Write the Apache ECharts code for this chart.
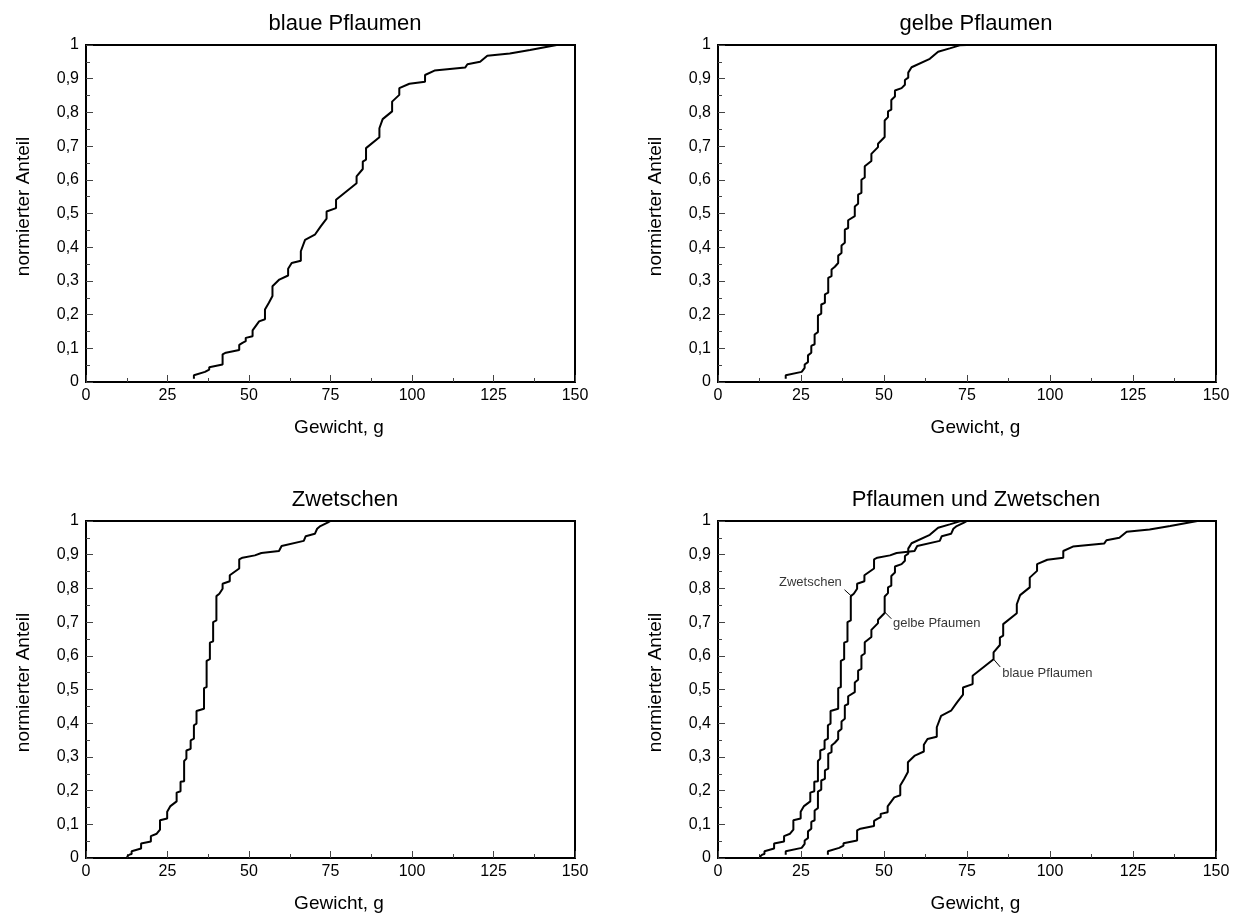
<!DOCTYPE html>
<html>
<head>
<meta charset="utf-8">
<script src="https://cdn.jsdelivr.net/npm/echarts@6/dist/echarts.min.js"></script>
<style>
html,body{margin:0;padding:0;background:#fff;}
#chart{width:1242px;height:915px;}
</style>
</head>
<body>
<div id="chart"></div>
<script>
// ---- data (weight in g, normalized cumulative share) ----
const blauePflaumen = [
  [33.1,0.01],[33.1,0.02],[36.5,0.03],[37.8,0.037],[37.8,0.044],[41.9,0.052],[41.9,0.082],[42.9,0.087],
  [47,0.095],[47,0.11],[48,0.116],[49,0.121],[49,0.131],[51.1,0.136],[51.1,0.153],[53.1,0.18],
  [54.9,0.186],[54.9,0.215],[56.1,0.235],[57.2,0.255],[57.2,0.284],[59.3,0.304],[62,0.316],[62,0.336],
  [63.1,0.353],[65.9,0.36],[65.9,0.388],[67.2,0.422],[70.2,0.437],[72,0.462],[73.8,0.485],[73.8,0.506],
  [76.7,0.516],[76.7,0.541],[83,0.59],[83,0.61],[84.9,0.632],[84.9,0.654],[85.9,0.66],[85.9,0.694],
  [90,0.726],[90,0.753],[91,0.78],[93.9,0.803],[93.9,0.832],[96.1,0.852],[96.1,0.872],[99.2,0.885],
  [104,0.891],[104,0.911],[106.9,0.924],[116.3,0.933],[117,0.943],[120.9,0.95],[123.1,0.968],
  [130,0.975],[136.2,0.985],[144.4,1.0]
];
const gelbePflaumen = [
  [20.4,0.01],[20.4,0.02],[25.2,0.03],[26.1,0.042],[26.1,0.052],[27.1,0.059],[27.1,0.079],[28.1,0.087],
  [28.1,0.107],[29.1,0.112],[29.1,0.141],[30.1,0.148],[30.1,0.197],[31.1,0.203],[31.1,0.23],[32.2,0.235],
  [32.2,0.26],[33.2,0.265],[33.2,0.309],[34.2,0.314],[34.2,0.334],[35.2,0.342],[36.2,0.353],[36.2,0.375],
  [37.2,0.383],[37.2,0.405],[38.2,0.413],[38.2,0.452],[39.2,0.457],[39.2,0.48],[41.2,0.492],[41.2,0.521],
  [42.2,0.529],[42.2,0.556],[43.2,0.561],[43.2,0.6],[44.2,0.607],[44.2,0.64],[46.2,0.656],[46.2,0.677],
  [48.2,0.697],[48.2,0.707],[50.2,0.727],[50.2,0.776],[51.2,0.786],[51.2,0.803],[52.2,0.808],[52.2,0.837],
  [53.3,0.847],[53.3,0.865],[55.3,0.872],[56.3,0.882],[56.3,0.896],[57.3,0.903],[57.3,0.918],[58.3,0.934],
  [63.8,0.959],[66.3,0.98],[69.8,0.99],[72.8,0.999],[74.9,1.0]
];
const zwetschen = [
  [12.5,0.003],[13.3,0.01],[14.0,0.012],[14.0,0.02],[16.9,0.028],[16.9,0.043],[19.9,0.049],[19.9,0.065],
  [21.7,0.072],[22.7,0.084],[22.7,0.112],[24.9,0.117],[24.9,0.137],[25.9,0.154],[27.8,0.168],[27.8,0.194],
  [29,0.198],[29,0.226],[30.1,0.228],[30.1,0.288],[30.8,0.295],[30.8,0.319],[32.1,0.324],[32.1,0.349],
  [33.1,0.354],[33.1,0.394],[33.9,0.399],[33.9,0.436],[36.2,0.443],[36.2,0.504],[37,0.507],[37,0.585],
  [38,0.59],[38,0.639],[39,0.643],[39,0.7],[40,0.705],[40,0.777],[40.9,0.784],[41.9,0.799],[41.9,0.814],
  [44.1,0.821],[44.1,0.839],[47,0.859],[47,0.886],[48,0.891],[51.8,0.898],[53.8,0.905],[59.2,0.911],
  [60,0.926],[66.8,0.941],[67.4,0.955],[70.2,0.962],[70.9,0.977],[71.9,0.985],[74.1,0.995],[75,1.0]
];
const panelTitles = ['blaue Pflaumen', 'gelbe Pflaumen', 'Zwetschen', 'Pflaumen und Zwetschen'];
const xTicks = [0, 25, 50, 75, 100, 125, 150];
const yTicks = [0, 0.1, 0.2, 0.3, 0.4, 0.5, 0.6, 0.7, 0.8, 0.9, 1];
// annotations in the combined panel: [text, anchorX, anchorY, side, leaderFrom, leaderTo]
const annotations = [
  ['Zwetschen', 37.3, 0.817, 'left', [40.1, 0.778], [38.1, 0.796]],
  ['gelbe Pfaumen', 52.7, 0.696, 'right', [50.2, 0.730], [52.2, 0.710]],
  ['blaue Pflaumen', 85.6, 0.547, 'right', [83.0, 0.590], [85.0, 0.567]]
];

// ---- layout ----
const FONT = '"Liberation Sans", Arial, sans-serif';
const grids = [
  {left: 86, top: 45, width: 489, height: 337},
  {left: 718, top: 45, width: 498, height: 337},
  {left: 86, top: 521, width: 489, height: 337},
  {left: 718, top: 521, width: 498, height: 337}
];
const titlePos = [
  {left: 345, top: 13}, {left: 976, top: 13},
  {left: 345, top: 489}, {left: 976, top: 489}
];

const fmtY = v => String(+v.toFixed(1)).replace('.', ',');

const chart = echarts.init(document.getElementById('chart'), null, {renderer: 'canvas'});
const option = {
  backgroundColor: '#fff',
  animation: false,
  title: panelTitles.map((t, i) => ({
    text: t, left: titlePos[i].left, top: titlePos[i].top, textAlign: 'center', padding: 0,
    textStyle: {fontFamily: FONT, fontSize: 22, fontWeight: 'normal', color: '#000', lineHeight: 22}
  })),
  grid: grids.map(g => Object.assign({show: true, borderColor: '#000', borderWidth: 2, backgroundColor: 'transparent'}, g)),
  xAxis: grids.map((g, i) => ({
    type: 'value', gridIndex: i, min: xTicks[0], max: xTicks[xTicks.length - 1], interval: 25,
    name: 'Gewicht, g', nameLocation: 'middle', nameGap: 36,
    nameTextStyle: {fontFamily: FONT, fontSize: 19, color: '#000', padding: [0, 0, 0, 17]},
    axisLine: {show: true, lineStyle: {color: '#000', width: 2}},
    axisTick: {show: true, inside: true, length: 7, lineStyle: {color: '#444', width: 1}},
    minorTick: {show: true, splitNumber: 2, length: 4, lineStyle: {color: '#444', width: 1}},
    axisLabel: {fontFamily: FONT, fontSize: 16, color: '#000', margin: 6},
    splitLine: {show: false}
  })),
  yAxis: grids.map((g, i) => ({
    type: 'value', gridIndex: i, min: yTicks[0], max: yTicks[yTicks.length - 1], interval: 0.1,
    name: 'normierter Anteil', nameLocation: 'middle', nameGap: 53,
    nameTextStyle: {fontFamily: FONT, fontSize: 19, color: '#000', padding: [0, 0, 0, 14]},
    axisLine: {show: true, lineStyle: {color: '#000', width: 2}},
    axisTick: {show: true, inside: true, length: 7, lineStyle: {color: '#444', width: 1}},
    minorTick: {show: true, splitNumber: 2, length: 4, lineStyle: {color: '#444', width: 1}},
    axisLabel: {fontFamily: FONT, fontSize: 16, color: '#000', margin: 7, formatter: fmtY},
    splitLine: {show: false}
  })),
  series: []
};

function curve(data, idx) {
  return {
    type: 'line', xAxisIndex: idx, yAxisIndex: idx, data: data,
    showSymbol: false, symbol: 'none', smooth: false, clip: true,
    lineStyle: {color: '#000', width: 2}, z: 3
  };
}
option.series.push(curve(blauePflaumen, 0));
option.series.push(curve(gelbePflaumen, 1));
option.series.push(curve(zwetschen, 2));
option.series.push(curve(zwetschen, 3));
option.series.push(curve(gelbePflaumen, 3));
option.series.push(curve(blauePflaumen, 3));

annotations.forEach(a => {
  option.series.push({
    type: 'line', xAxisIndex: 3, yAxisIndex: 3, data: [a[4], a[5]],
    symbol: 'none', lineStyle: {color: '#000', width: 1}, z: 4
  });
  option.series.push({
    type: 'scatter', xAxisIndex: 3, yAxisIndex: 3, data: [[a[1], a[2]]],
    symbolSize: 0, silent: true, z: 5,
    label: {show: true, position: a[3], distance: 0, formatter: a[0],
      fontFamily: FONT, fontSize: 13, color: '#000'}
  });
});

chart.setOption(option);
</script>
</body>
</html>
